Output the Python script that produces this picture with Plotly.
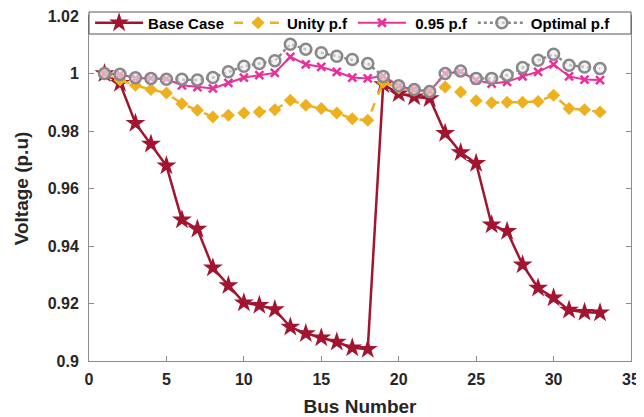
import plotly.graph_objects as go

bus = list(range(1, 34))

base_case = [1.0, 0.9966, 0.9827, 0.9755, 0.9679, 0.9491, 0.9459, 0.9324, 0.9263, 0.9203,
             0.9194, 0.9179, 0.9118, 0.9096, 0.9081, 0.9066, 0.9046, 0.9041, 0.9962, 0.9930,
             0.9919, 0.9913, 0.9792, 0.9725, 0.9688, 0.9474, 0.9451, 0.9335, 0.9254, 0.9220,
             0.9177, 0.9170, 0.9168]

unity_pf = [1.0, 0.9977, 0.9959, 0.9944, 0.9932, 0.9895, 0.9872, 0.9849, 0.9855, 0.9863,
            0.9866, 0.9874, 0.9907, 0.9890, 0.9878, 0.9863, 0.9843, 0.9837, 0.9970, 0.9950,
            0.9942, 0.9937, 0.9953, 0.9936, 0.9905, 0.9898, 0.9900, 0.9900, 0.9903, 0.9924,
            0.9878, 0.9874, 0.9866]

pf_095 = [1.0, 0.9997, 0.9984, 0.9983, 0.9981, 0.9959, 0.9953, 0.9948, 0.9967, 0.9986,
          0.9994, 1.0002, 1.0058, 1.0032, 1.0023, 1.0006, 0.9986, 0.9983, 0.9992, 0.9957,
          0.9944, 0.9938, 1.0000, 1.0006, 0.9977, 0.9965, 0.9971, 0.9990, 1.0006, 1.0032,
          0.9990, 0.9979, 0.9977]

optimal_pf = [1.0, 0.9997, 0.9985, 0.9983, 0.9980, 0.9980, 0.9977, 0.9986, 1.0006, 1.0025,
              1.0035, 1.0044, 1.0102, 1.0084, 1.0072, 1.0060, 1.0049, 1.0035, 0.9990, 0.9957,
              0.9944, 0.9937, 1.0000, 1.0009, 0.9983, 0.9983, 0.9994, 1.0021, 1.0046, 1.0067,
              1.0029, 1.0023, 1.0017]

series_names = ["Base Case", "Unity p.f", "\u00a00.95 p.f", "Optimal p.f"]

x_ticks = [0, 5, 10, 15, 20, 25, 30, 35]
y_ticks = [0.9, 0.92, 0.94, 0.96, 0.98, 1.0, 1.02]
y_tick_labels = ["0.9", "0.92", "0.94", "0.96", "0.98", "1", "1.02"]

FONT = "Arial, Liberation Sans, sans-serif"

fig = go.Figure()
fig.add_trace(go.Scatter(
    x=bus, y=base_case, name=series_names[0], mode="lines+markers",
    line=dict(color="#A2142F", width=2.5),
    marker=dict(symbol="star", size=15, color="#A2142F", line=dict(width=0))))
fig.add_trace(go.Scatter(
    x=bus, y=unity_pf, name=series_names[1], mode="lines+markers",
    line=dict(color="#EDB120", width=2.5, dash="dash"),
    marker=dict(symbol="diamond", size=10, color="#EDB120", line=dict(width=0))))
fig.add_trace(go.Scatter(
    x=bus, y=pf_095, name=series_names[2], mode="lines+markers",
    line=dict(color="#E8309A", width=2),
    marker=dict(symbol="x-thin", size=8, color="#E8309A", line=dict(width=2.5, color="#E8309A"))))
fig.add_trace(go.Scatter(
    x=bus, y=optimal_pf, name=series_names[3], mode="lines+markers",
    line=dict(color="#888888", width=2.5, dash="dot"),
    marker=dict(symbol="circle", size=11, color="rgba(235,235,235,0.6)", line=dict(width=2.5, color="#888888"))))

axis_common = dict(
    showline=True, linecolor="#8c8c8c", linewidth=1, mirror="ticks",
    ticks="inside", ticklen=5, tickcolor="#8c8c8c", showgrid=False, zeroline=False,
    automargin=False, ticklabeloverflow="allow",
    tickfont=dict(family=FONT, size=16, color="#262626", weight="bold"),
)

fig.update_xaxes(range=[0, 35], tickvals=x_ticks, ticklabelstandoff=4,
                 title=dict(text="Bus Number", font=dict(family=FONT, size=19, color="#262626", weight="bold"), standoff=12),
                 **axis_common)
fig.update_yaxes(range=[0.9, 1.02], tickvals=y_ticks, ticktext=y_tick_labels, ticklabelstandoff=6,
                 title=dict(text="Voltage (p.u)", font=dict(family=FONT, size=19, color="#262626", weight="bold"), standoff=14),
                 **axis_common)

# legend frame spanning the full plot width (legend entries drawn on top of it)
fig.add_shape(type="rect", xref="paper", yref="paper",
              x0=0, x1=1, y0=1 - 18 / 345, y1=1 + 4 / 345,
              fillcolor="white", line=dict(color="#555555", width=1), layer="above")

# page body has an 8px default margin, so the figure is sized to fill the remaining window
fig.update_layout(
    width=636, height=409,
    margin=dict(l=81, r=13, t=8, b=56, autoexpand=False),
    plot_bgcolor="white", paper_bgcolor="white",
    font=dict(family=FONT, color="#000000"),
    legend=dict(
        orientation="h", x=0.002, xanchor="left", y=1 - 7 / 345, yanchor="middle",
        bgcolor="rgba(0,0,0,0)", borderwidth=0,
        font=dict(family=FONT, size=15, color="#000000", weight="bold"),
        itemwidth=48,
    ),
)

fig.write_html("out.html")
